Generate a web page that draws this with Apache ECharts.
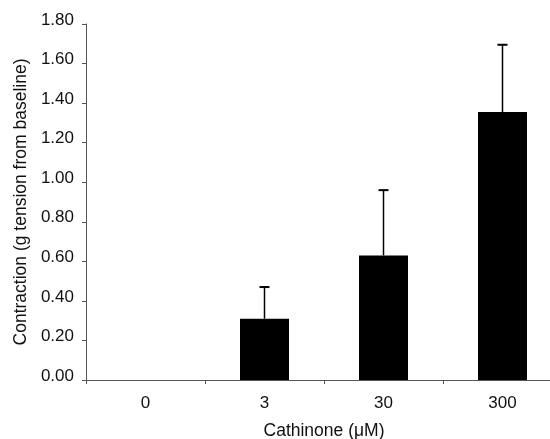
<!DOCTYPE html>
<html>
<head>
<meta charset="utf-8">
<script src="https://cdn.jsdelivr.net/npm/echarts@6/dist/echarts.min.js"></script>
<style>html,body{margin:0;padding:0;background:#fff;}#c{width:550px;height:439px;}</style>
</head>
<body>
<div id="c"></div>
<script>
var categories = ['0', '3', '30', '300'];
var means = [0, 0.31, 0.63, 1.355];
var errors = [0, 0.16, 0.33, 0.34];
var yTicks = ['0.00','0.20','0.40','0.60','0.80','1.00','1.20','1.40','1.60','1.80'];

var chart = echarts.init(document.getElementById('c'));
var errData = categories.map(function (c, i) { return [i, means[i], means[i] + errors[i]]; });
var font = 'Liberation Sans, Arial, sans-serif';
chart.setOption({
  animation: false,
  grid: { left: 86, top: 24, width: 476, height: 356, outerBoundsMode: 'none', containLabel: false },
  xAxis: {
    type: 'category',
    data: categories,
    name: 'Cathinone (μM)',
    nameLocation: 'middle',
    nameGap: 42,
    nameTextStyle: { fontFamily: font, fontSize: 17.5, color: '#111' },
    axisLine: { lineStyle: { color: '#555', width: 1 } },
    axisTick: { show: true, length: 4, lineStyle: { color: '#555' } },
    axisLabel: { fontFamily: font, fontSize: 17, color: '#111', margin: 15 }
  },
  yAxis: {
    type: 'value',
    min: 0, max: 1.8, interval: 0.2,
    name: 'Contraction (g tension from baseline)',
    nameLocation: 'middle',
    nameGap: 55,
    nameTextStyle: { fontFamily: font, fontSize: 17.5, color: '#111' },
    splitLine: { show: false },
    axisLine: { show: true, lineStyle: { color: '#555', width: 1 } },
    axisTick: { show: true, length: 4, lineStyle: { color: '#555' } },
    axisLabel: {
      fontFamily: font, fontSize: 17, color: '#111', margin: 12,
      verticalAlign: 'bottom', lineHeight: 8,
      formatter: function (v) { return yTicks[Math.round(v / 0.2)]; }
    }
  },
  series: [
    {
      type: 'bar',
      data: means,
      barWidth: 49,
      itemStyle: { color: '#000' }
    },
    {
      type: 'custom',
      data: errData,
      z: 3,
      renderItem: function (params, api) {
        var i = api.value(0);
        if (api.value(2) <= api.value(1)) return null;
        var p0 = api.coord([i, api.value(1)]);
        var p1 = api.coord([i, api.value(2)]);
        var hw = 5;
        return {
          type: 'group',
          children: [
            { type: 'line', shape: { x1: p0[0], y1: p0[1], x2: p1[0], y2: p1[1] }, style: { stroke: '#000', lineWidth: 1.5 } },
            { type: 'line', shape: { x1: p1[0] - hw, y1: p1[1], x2: p1[0] + hw, y2: p1[1] }, style: { stroke: '#000', lineWidth: 2 } }
          ]
        };
      }
    }
  ]
});
</script>
</body>
</html>
